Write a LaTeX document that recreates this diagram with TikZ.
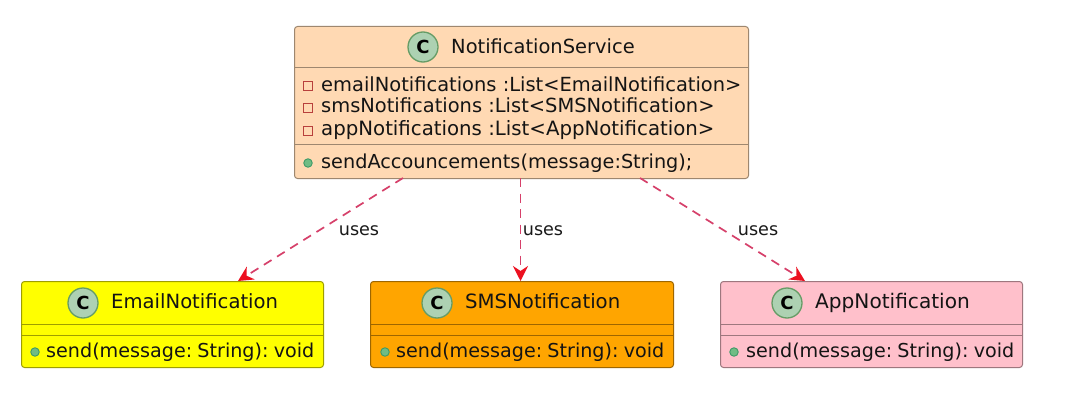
\documentclass[tikz,border=0pt]{standalone}
\usepackage{fontspec}
\setmainfont{DejaVu Sans}
\usetikzlibrary{arrows.meta}
\definecolor{svcfill}{HTML}{FFD9B3}
\definecolor{appfill}{HTML}{FFC0CB}
\definecolor{smsfill}{HTML}{FFA500}
\definecolor{mailfill}{HTML}{FFFF00}
\definecolor{edge}{HTML}{D6406A}
\definecolor{tip}{HTML}{EC1020}
\definecolor{badgefill}{HTML}{ADD1B2}
\definecolor{privline}{HTML}{B8403C}
\definecolor{publine}{HTML}{3E9A68}
\definecolor{pubfill}{HTML}{70BC84}
\tikzset{
  x=1pt,y=-1pt,
  classbox/.style={draw=#1!62!black,line width=1pt,rounded corners=3pt,anchor=north west,inner sep=0pt},
  rule/.style={line width=1pt},
  textline/.style={anchor=base west,inner sep=0pt,font=\fontsize{#1}{21}\selectfont,text=black!92},
  textline/.default=19.45,
  sendline/.style={textline=19.15,execute at begin node={\spaceskip=3.2pt\relax}},
  small/.style={anchor=base,inner sep=0pt,font=\fontsize{17.6}{19}\selectfont,text=black!90},
  badge/.style={circle,draw=black!65!green!60,fill=badgefill,line width=1.3pt,minimum size=30pt,inner sep=0pt,font=\fontsize{18}{19}\selectfont\bfseries},
  priv/.style={rectangle,draw=privline,line width=1.1pt,minimum size=8.5pt,inner sep=0pt},
  pub/.style={circle,draw=publine,fill=pubfill,line width=.9pt,minimum size=8.5pt,inner sep=0pt},
  uses/.style={draw=edge,line width=1.7pt,dash pattern=on 9pt off 6.5pt,-{Stealth[inset=5pt,length=15pt,width=15pt,color=tip]}},
}
\begin{document}
\begin{tikzpicture}
\useasboundingbox (0,0) rectangle (1065,404);
\fill[white] (0,0) rectangle (1065,404);
% boxes
\node[classbox=svcfill,fill=svcfill,minimum width=454pt,minimum height=152pt] (svc) at (294,26) {};
\node[classbox=mailfill,fill=mailfill,minimum width=302pt,minimum height=86pt] (mail) at (21,281) {};
\node[classbox=smsfill,fill=smsfill,minimum width=303pt,minimum height=86pt] (sms) at (370,281) {};
\node[classbox=appfill,fill=appfill,minimum width=302pt,minimum height=86pt] (app) at (720,281) {};
% dividers
\draw[rule,draw=svcfill!62!black] (294,68) -- (748,68) (294,144) -- (748,144);
\draw[rule,draw=mailfill!62!black] (21,324) -- (323,324) (21,335) -- (323,335);
\draw[rule,draw=smsfill!62!black] (370,324) -- (673,324) (370,335) -- (673,335);
\draw[rule,draw=appfill!62!black] (720,324) -- (1022,324) (720,335) -- (1022,335);
% service
\node[badge] (svcC) at (423,47) {C};
\node[textline] (svcT) at (451,54) {NotificationService};
\node[priv] (p1) at (308,86) {};
\node[textline] (a1) at (321,92) {emailNotifications :List<EmailNotification>};
\node[priv] (p2) at (308,108) {};
\node[textline] (a2) at (321,112) {smsNotifications :List<SMSNotification>};
\node[priv] (p3) at (308,131) {};
\node[textline=19.75] (a3) at (321,135) {appNotifications :List<AppNotification>};
\node[pub] (p4) at (308,163) {};
\node[textline=19.25] (m1) at (321,168) {sendAccouncements(message:String);};
% email
\node[badge] (mailC) at (83,303) {C};
\node[textline=19.6] (mailT) at (111,308) {EmailNotification};
\node[pub] (p5) at (35,352) {};
\node[sendline] (m2) at (46,357) {send(message: String): void};
% sms
\node[badge] (smsC) at (437,303) {C};
\node[textline=19.7] (smsT) at (465,308) {SMSNotification};
\node[pub] (p6) at (385,352) {};
\node[sendline] (m3) at (396,357) {send(message: String): void};
% app
\node[badge] (appC) at (787,303) {C};
\node[textline=20.1] (appT) at (815,308) {AppNotification};
\node[pub] (p7) at (734,352) {};
\node[sendline] (m4) at (746,357) {send(message: String): void};
% connectors
\coordinate (s1) at (403,178);
\coordinate (s2) at (520.5,178);
\coordinate (s3) at (640,178);
\coordinate (e1) at (238,281);
\coordinate (e2) at (520.5,281);
\coordinate (e3) at (805,281);
\draw[uses] (s1) -- (e1);
\draw[uses] (s2) -- (e2);
\draw[uses] (s3) -- (e3);
\node[small] (u1) at (359,235) {uses};
\node[small] (u2) at (543,235) {uses};
\node[small] (u3) at (758,235) {uses};
\end{tikzpicture}
\end{document}
